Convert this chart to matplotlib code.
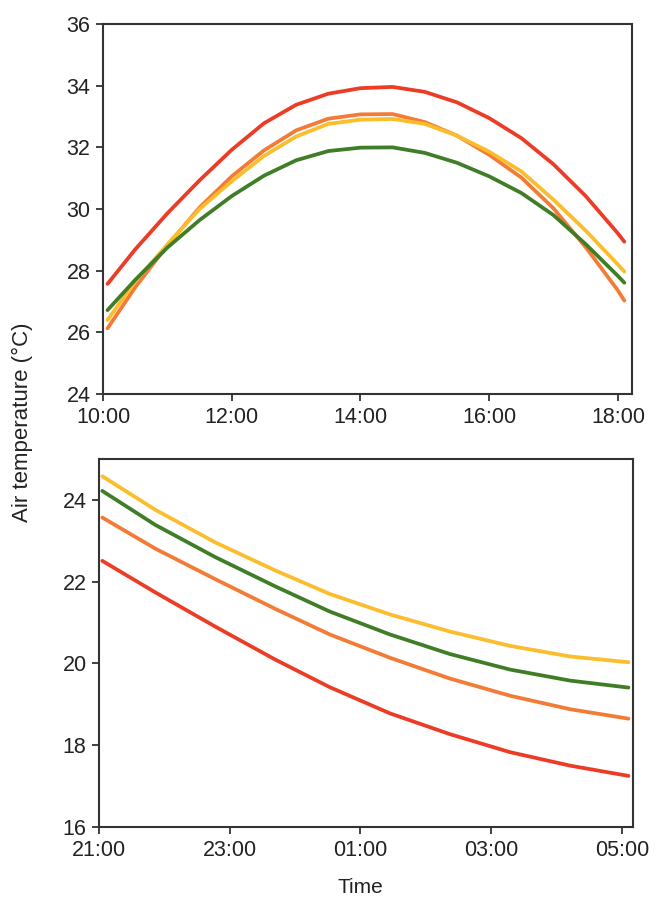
import matplotlib
matplotlib.use('Agg')
import matplotlib.pyplot as plt

plt.rcParams['font.family'] = ['Liberation Sans', 'DejaVu Sans']

# daytime (hours, 10:00 - 18:00)
day_hours = [10.07, 10.5, 11.0, 11.5, 12.0, 12.5, 13.0, 13.5, 14.0,
             14.5, 15.0, 15.5, 16.0, 16.5, 17.0, 17.5, 18.0, 18.10]
day_red = [27.57, 28.69, 29.86, 30.93, 31.92, 32.78, 33.38, 33.74, 33.92,
           33.96, 33.80, 33.46, 32.95, 32.30, 31.45, 30.42, 29.21, 28.94]
day_orange = [26.13, 27.46, 28.82, 30.05, 31.06, 31.90, 32.55, 32.93, 33.07,
              33.08, 32.82, 32.38, 31.76, 31.02, 30.02, 28.76, 27.36, 27.03]
day_yellow = [26.40, 27.65, 28.85, 30.00, 30.90, 31.72, 32.35, 32.76, 32.90,
              32.92, 32.76, 32.38, 31.86, 31.22, 30.30, 29.30, 28.20, 27.97]
day_green = [26.72, 27.70, 28.75, 29.64, 30.42, 31.08, 31.58, 31.88, 31.99,
             32.00, 31.82, 31.50, 31.06, 30.52, 29.80, 28.86, 27.83, 27.61]

# night time (hours past midnight of first day, 21:00 - 05:00)
night_hours = [21.05, 21.86, 22.78, 23.69, 24.53, 25.45, 26.37, 27.29, 28.21, 29.10]
night_red = [22.51, 21.74, 20.90, 20.10, 19.42, 18.78, 18.27, 17.83, 17.50, 17.25]
night_orange = [23.57, 22.81, 22.06, 21.34, 20.71, 20.14, 19.63, 19.21, 18.88, 18.65]
night_yellow = [24.58, 23.76, 22.96, 22.28, 21.70, 21.20, 20.78, 20.43, 20.17, 20.03]
night_green = [24.22, 23.39, 22.60, 21.89, 21.27, 20.71, 20.23, 19.85, 19.58, 19.41]

day_ticks = [10, 12, 14, 16, 18]
day_labels = ['10:00', '12:00', '14:00', '16:00', '18:00']
night_ticks = [21, 23, 25, 27, 29]
night_labels = ['21:00', '23:00', '01:00', '03:00', '05:00']

c_red = '#ec3c25'
c_orange = '#f47b36'
c_yellow = '#fbbd2c'
c_green = '#3f7d27'
lw = 2.7

fig = plt.figure(figsize=(6.57, 9.07), dpi=100)
ax1 = fig.add_axes([0.1568, 0.5656, 0.8052, 0.4079])
ax2 = fig.add_axes([0.1507, 0.0882, 0.8128, 0.4057])

ax1.plot(day_hours, day_red, color=c_red, lw=lw, solid_capstyle='round', solid_joinstyle='round')
ax1.plot(day_hours, day_orange, color=c_orange, lw=lw, solid_capstyle='round', solid_joinstyle='round')
ax1.plot(day_hours, day_yellow, color=c_yellow, lw=lw, solid_capstyle='round', solid_joinstyle='round')
ax1.plot(day_hours, day_green, color=c_green, lw=lw, solid_capstyle='round', solid_joinstyle='round')
ax1.set_xlim(10, 18.22)
ax1.set_ylim(24, 36)
ax1.set_yticks([24, 26, 28, 30, 32, 34, 36])
ax1.set_xticks(day_ticks)
ax1.set_xticklabels(day_labels)

ax2.plot(night_hours, night_yellow, color=c_yellow, lw=lw, solid_capstyle='round', solid_joinstyle='round')
ax2.plot(night_hours, night_green, color=c_green, lw=lw, solid_capstyle='round', solid_joinstyle='round')
ax2.plot(night_hours, night_orange, color=c_orange, lw=lw, solid_capstyle='round', solid_joinstyle='round')
ax2.plot(night_hours, night_red, color=c_red, lw=lw, solid_capstyle='round', solid_joinstyle='round')
ax2.set_xlim(21, 29.17)
ax2.set_ylim(16, 25)
ax2.set_yticks([16, 18, 20, 22, 24])
ax2.set_xticks(night_ticks)
ax2.set_xticklabels(night_labels)

for ax in [ax1, ax2]:
    for s in ax.spines.values():
        s.set_color('#333333')
        s.set_linewidth(1.5)
    ax.tick_params(direction='out', length=5, width=1.3, color='#333333',
                   labelsize=15.5, labelcolor='#222222', pad=4)

fig.text(0.034, 0.534, 'Air temperature (°C)', rotation=90, ha='center', va='center',
         fontsize=16, color='#222222')
fig.text(0.548, 0.021, 'Time', ha='center', va='center', fontsize=15, color='#222222')

fig.savefig('out.png', dpi=100)
